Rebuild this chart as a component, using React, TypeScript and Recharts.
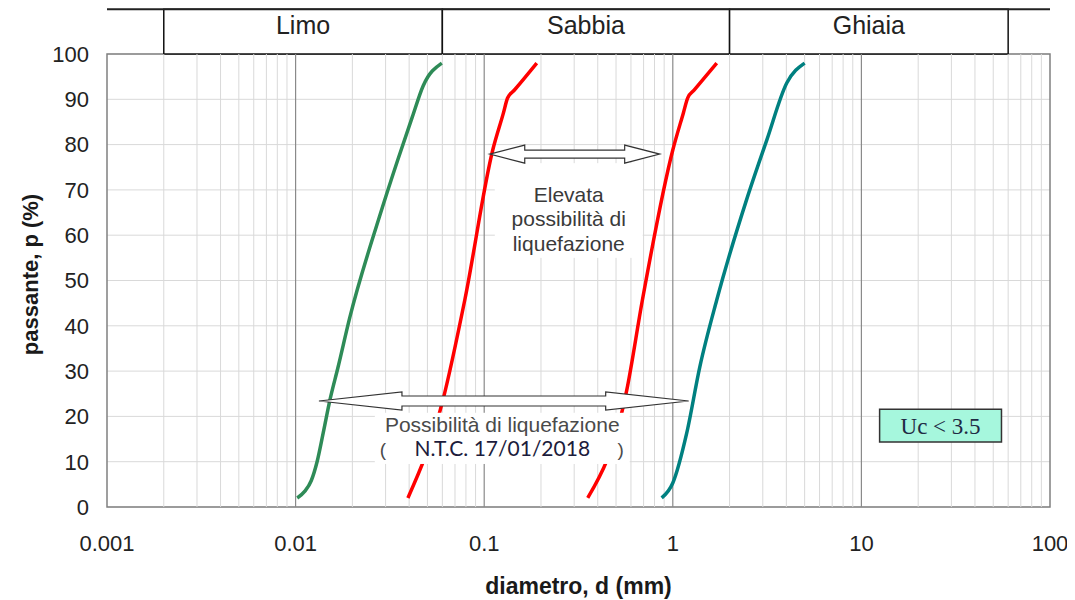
import React from 'react';
import {
  ComposedChart,
  Line,
  XAxis,
  YAxis,
  CartesianGrid,
  ReferenceLine,
  ReferenceArea,
} from 'recharts';

const FONT = '"Liberation Sans", Arial, sans-serif';
const SERIF = '"Liberation Serif", "Times New Roman", serif';

// axis ticks
const xTicks = [0.001, 0.01, 0.1, 1, 10, 100];
const yTicks = [0, 10, 20, 30, 40, 50, 60, 70, 80, 90, 100];
const decades = [0.001, 0.01, 0.1, 1, 10];
const minorMultipliers = [2, 3, 4, 5, 6, 7, 8, 9];
const majorGrid = [0.01, 0.1, 1, 10];

// soil classes (header)
const bands = [
  { name: 'Limo', from: 0.002, to: 0.06 },
  { name: 'Sabbia', from: 0.06, to: 2 },
  { name: 'Ghiaia', from: 2, to: 60 },
];

// grading curves: d (mm), p (%)
const greenCurve = [
  { d: 0.0102, p: 2 },
  { d: 0.0112, p: 3.5 },
  { d: 0.0121, p: 5.8 },
  { d: 0.013, p: 10 },
  { d: 0.014, p: 16.3 },
  { d: 0.0152, p: 23.6 },
  { d: 0.0168, p: 30.9 },
  { d: 0.0194, p: 41.9 },
  { d: 0.0278, p: 64 },
  { d: 0.0348, p: 76.6 },
  { d: 0.0415, p: 86 },
  { d: 0.0475, p: 93 },
  { d: 0.0596, p: 98 },
];

const redLeftCurve = [
  { d: 0.0394, p: 2 },
  { d: 0.0604, p: 23.6 },
  { d: 0.0789, p: 45.7 },
  { d: 0.111, p: 78.8 },
  { d: 0.1265, p: 87 },
  { d: 0.133, p: 90.3 },
  { d: 0.1443, p: 92 },
  { d: 0.19, p: 98 },
];

const redRightCurve = [
  { d: 0.354, p: 2 },
  { d: 0.57, p: 25.8 },
  { d: 0.69, p: 45.7 },
  { d: 1.0, p: 78.8 },
  { d: 1.138, p: 87 },
  { d: 1.2, p: 90.3 },
  { d: 1.297, p: 92 },
  { d: 1.71, p: 98 },
];

const tealCurve = [
  { d: 0.873, p: 2 },
  { d: 1.0, p: 5.3 },
  { d: 1.185, p: 16.3 },
  { d: 1.39, p: 30.9 },
  { d: 1.71, p: 45.7 },
  { d: 2.46, p: 67.8 },
  { d: 3.15, p: 81 },
  { d: 4.02, p: 93.6 },
  { d: 5.0, p: 98 },
];

// annotations
const upperArrow = { x1: 0.107, x2: 0.852, y1: 75.9, y2: 79.9 };
const lowerArrow = { x1: 0.0133, x2: 1.214, y1: 21.4, y2: 25.4 };
const upperNoteArea = { x1: 0.1138, x2: 0.6925, y1: 55.0, y2: 75.9 };
const upperNoteLines = ['Elevata', 'possibilità di', 'liquefazione'];
const lowerNoteArea = { x1: 0.0263, x2: 0.591, y1: 9.5, y2: 20.8 };
const lowerNoteTitle = 'Possibilità di liquefazione';
const lowerNoteRef = 'N.T.C. 17/01/2018';
const ucArea = { x1: 12.49, x2: 55.3, y1: 14.35, y2: 21.6 };
const ucLabel = 'Uc < 3.5';

const minorGrid = decades.flatMap((dec) =>
  minorMultipliers.map((m) => Number((dec * m).toPrecision(3)))
);

const doubleArrow = (headLen: number, shaftH: number) => (props: any) => {
  const { x, y, width, height } = props;
  const cy = y + height / 2;
  const h = shaftH / 2;
  const pts = [
    [x, cy],
    [x + headLen, y],
    [x + headLen, cy - h],
    [x + width - headLen, cy - h],
    [x + width - headLen, y],
    [x + width, cy],
    [x + width - headLen, y + height],
    [x + width - headLen, cy + h],
    [x + headLen, cy + h],
    [x + headLen, y + height],
  ];
  return (
    <polygon
      points={pts.map((p) => p.join(',')).join(' ')}
      fill="#ffffff"
      stroke="#333333"
      strokeWidth={1.2}
    />
  );
};

const upperNoteShape = (props: any) => {
  const { x, y, width, height } = props;
  const cx = x + width / 2;
  return (
    <g>
      <rect x={x} y={y} width={width} height={height} fill="#ffffff" />
      {upperNoteLines.map((t, i) => (
        <text
          key={t}
          x={cx}
          y={y + 38.5 + i * 24.5}
          textAnchor="middle"
          fontFamily={FONT}
          fontSize={21}
          fill="#3a3a3a"
        >
          {t}
        </text>
      ))}
    </g>
  );
};

const lowerNoteShape = (props: any) => {
  const { x, y, width, height } = props;
  const cx = x + width / 2;
  return (
    <g>
      <rect x={x} y={y} width={width} height={height} fill="#ffffff" />
      <text x={cx} y={y + 19} textAnchor="middle" fontFamily={FONT} fontSize={21} fill="#4a4a4a">
        {lowerNoteTitle}
      </text>
      <text x={x + 8} y={y + 43} textAnchor="middle" fontFamily={FONT} fontSize={19} fill="#4a4a4a">
        (
      </text>
      <text x={x + width - 9} y={y + 43} textAnchor="middle" fontFamily={FONT} fontSize={19} fill="#4a4a4a">
        )
      </text>
      <text x={cx} y={y + 43} textAnchor="middle" fontFamily="Lato, sans-serif" fontSize={21} fill="#1c1c3c">
        {lowerNoteRef}
      </text>
    </g>
  );
};

const yLabelContent = (props: any) => {
  const vb = props.viewBox || {};
  const cx = vb.x + 13;
  const cy = vb.y + vb.height / 2 - 6;
  return (
    <text
      x={cx}
      y={cy}
      transform={`rotate(-90, ${cx}, ${cy})`}
      textAnchor="middle"
      dominantBaseline="central"
      fontFamily={FONT}
      fontWeight="bold"
      fontSize={22}
      fill="#1a1a1a"
    >
      passante, p (%)
    </text>
  );
};

const xLabelContent = (props: any) => {
  const vb = props.viewBox || {};
  const cx = vb.x + vb.width / 2;
  return (
    <text
      x={cx}
      y={vb.y + 87}
      textAnchor="middle"
      fontFamily={FONT}
      fontWeight="bold"
      fontSize={23}
      fill="#1a1a1a"
    >
      diametro, d (mm)
    </text>
  );
};

export default function App() {
  return (
    <div style={{ width: 1067, height: 592 }}>
      <ComposedChart
        width={1067}
        height={592}
        margin={{ top: 46, right: 25, bottom: 33, left: 9 }}
      >
        <CartesianGrid vertical={false} stroke="#d9d9d9" strokeWidth={1} />
        <XAxis
          dataKey="d"
          type="number"
          scale="log"
          domain={[0.001, 100]}
          ticks={xTicks}
          allowDataOverflow
          axisLine={false}
          tickLine={false}
          tickSize={0}
          tickMargin={28}
          height={60}
          tickFormatter={(v: number) => String(v)}
          tick={{ fontFamily: FONT, fontSize: 22, fill: '#222222' }}
          label={{ content: xLabelContent }}
        />
        <YAxis
          type="number"
          domain={[0, 100]}
          ticks={yTicks}
          axisLine={false}
          tickLine={false}
          tickSize={0}
          tickMargin={18}
          width={90}
          tick={{ fontFamily: FONT, fontSize: 22, fill: '#222222' }}
          label={{ content: yLabelContent }}
        />

        {minorGrid.map((v) => (
          <ReferenceLine key={'mn' + v} x={v} stroke="#d9d9d9" strokeWidth={1} />
        ))}
        {majorGrid.map((v) => (
          <ReferenceLine key={'mj' + v} x={v} stroke="#8a8a8a" strokeWidth={1.2} />
        ))}
        <ReferenceArea
          x1={0.001}
          x2={100}
          y1={0}
          y2={100}
          fill="none"
          stroke="#808080"
          strokeWidth={1.5}
        />

        <Line data={greenCurve} dataKey="p" type="monotone" stroke="#2e8b57" strokeWidth={3.5} dot={false} isAnimationActive={false} />
        <Line data={redLeftCurve} dataKey="p" type="monotone" stroke="#ff0000" strokeWidth={3.5} dot={false} isAnimationActive={false} />
        <Line data={redRightCurve} dataKey="p" type="monotone" stroke="#ff0000" strokeWidth={3.5} dot={false} isAnimationActive={false} />
        <Line data={tealCurve} dataKey="p" type="monotone" stroke="#008080" strokeWidth={3.5} dot={false} isAnimationActive={false} />

        <ReferenceArea {...upperNoteArea} shape={upperNoteShape} ifOverflow="visible" zIndex={1500} />
        <ReferenceArea {...lowerNoteArea} shape={lowerNoteShape} ifOverflow="visible" zIndex={1500} />
        <ReferenceArea {...upperArrow} shape={doubleArrow(35, 8)} ifOverflow="visible" zIndex={1600} />
        <ReferenceArea {...lowerArrow} shape={doubleArrow(83, 10)} ifOverflow="visible" zIndex={1600} />
        <ReferenceArea
          {...ucArea}
          fill="#a6f7dd"
          fillOpacity={1}
          stroke="#333333"
          strokeWidth={1.5}
          ifOverflow="visible"
          zIndex={1600}
          label={{ value: ucLabel, position: 'center', fontFamily: SERIF, fontSize: 23, fill: '#1f2a44' }}
        />

        {bands.map((b) => (
          <ReferenceArea
            key={b.name}
            x1={b.from}
            x2={b.to}
            y1={100}
            y2={109.9}
            ifOverflow="visible"
            fill="#ffffff"
            fillOpacity={1}
            stroke="#111111"
            strokeWidth={1.5}
            label={{ value: b.name, position: 'insideTop', offset: 7, fontFamily: FONT, fontSize: 25, fill: '#222222' }}
          />
        ))}
        <ReferenceLine
          segment={[
            { x: 0.001, y: 109.9 },
            { x: 100, y: 109.9 },
          ]}
          ifOverflow="visible"
          stroke="#222222"
          strokeWidth={2}
        />
      </ComposedChart>
    </div>
  );
}
